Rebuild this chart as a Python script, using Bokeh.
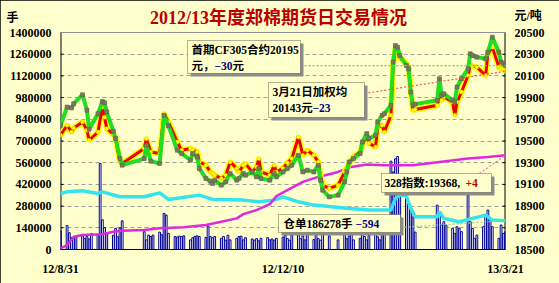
import pandas as pd
from bokeh.plotting import figure
from bokeh.models import (Range1d, LinearAxis, FixedTicker, Label, BoxAnnotation, Span,
                          CustomJSTickFormatter)
from bokeh.embed import file_html
from bokeh.resources import INLINE

# ---------------- data ----------------
title_text = "2012/13年度郑棉期货日交易情况"
left_unit = "手"
right_unit = "元/吨"
tick_dates = ["2012-08-31", "2012-12-10", "2013-03-21"]
tick_labels = ["12/8/31", "12/12/10", "13/3/21"]
vol_ticks = [0, 140000, 280000, 420000, 560000, 700000, 840000, 980000, 1120000, 1260000, 1400000]
price_ticks = [18500, 18700, 18900, 19100, 19300, 19500, 19700, 19900, 20100, 20300, 20500]

holidays = ["2012-10-01", "2012-10-02", "2012-10-03", "2012-10-04", "2012-10-05",
            "2013-01-01", "2013-01-02", "2013-01-03",
            "2013-02-11", "2013-02-12", "2013-02-13", "2013-02-14", "2013-02-15"]

# daily volume (lots), one value per trading day
volume = [
    120000,
    155000, 108000, 78000, 70000, 85000,
    88000, 72000, 84000, 68000, 102000,
    96000, 555000, 192000, 142000, 100000,
    92000, 136000, 82000, 140000, 185000,
    115000, 62000, 93000, 84000, 93000,
    112000, 95000, 233000, 222000, 104000,
    84000, 80000, 86000, 84000, 88000,
    62000, 76000, 84000,
    88000, 84000,
    78000, 151000, 84000, 76000, 84000,
    72000, 84000, 60000, 92000, 62000,
    72000, 84000, 86000, 62000, 76000,
    68000, 60000, 70000, 56000, 72000,
    76000, 62000, 68000, 60000, 72000,
    80000, 92000, 70000, 60000, 90000,
    95000, 70000, 88000, 62000, 100000,
    64000, 96000, 70000, 60000, 102000,
    88000,
    62000,
    100000, 70000, 88000, 104000, 62000,
    72000, 98000, 84000, 62000, 90000,
    100000, 82000, 62000, 110000, 130000,
    570000, 500000, 585000, 600000, 430000,
    330000, 305000, 255000, 210000, 112000,
    286000, 243000, 158000, 179000, 158000,
    136000, 104000, 147000, 136000,
    115000,
    351000, 179000, 136000, 72000, 93000,
    147000, 222000, 254000, 200000, 147000,
    72000, 158000, 104000, 115000,
]

price_dates = [
    "2012-08-31", "2012-09-03", "2012-09-05", "2012-09-06", "2012-09-10", "2012-09-12",
    "2012-09-13", "2012-09-17", "2012-09-19", "2012-09-20", "2012-09-21", "2012-09-24",
    "2012-09-25", "2012-09-27", "2012-09-28",
    "2012-10-08", "2012-10-09", "2012-10-11", "2012-10-15", "2012-10-17", "2012-10-19",
    "2012-10-23", "2012-10-25", "2012-10-29", "2012-10-30",
    "2012-11-01", "2012-11-02", "2012-11-05", "2012-11-07", "2012-11-08", "2012-11-09",
    "2012-11-12", "2012-11-14", "2012-11-16", "2012-11-19", "2012-11-20", "2012-11-22",
    "2012-11-23", "2012-11-26", "2012-11-28", "2012-11-29", "2012-11-30",
    "2012-12-04", "2012-12-06", "2012-12-07", "2012-12-10", "2012-12-12", "2012-12-14",
    "2012-12-17", "2012-12-19", "2012-12-21", "2012-12-24", "2012-12-26", "2012-12-27",
    "2012-12-28", "2012-12-31",
    "2013-01-04", "2013-01-07", "2013-01-08", "2013-01-09", "2013-01-11", "2013-01-14",
    "2013-01-15", "2013-01-17", "2013-01-18", "2013-01-21", "2013-01-22", "2013-01-24",
    "2013-01-25", "2013-01-28", "2013-01-29", "2013-01-30", "2013-01-31", "2013-02-01",
    "2013-02-04", "2013-02-05", "2013-02-06", "2013-02-07", "2013-02-08",
    "2013-02-18", "2013-02-19", "2013-02-20", "2013-02-21", "2013-02-25", "2013-02-26",
    "2013-02-27",
    "2013-03-01", "2013-03-04", "2013-03-05", "2013-03-06", "2013-03-08", "2013-03-12",
    "2013-03-13", "2013-03-15", "2013-03-18", "2013-03-19", "2013-03-20", "2013-03-21",
]
cf305_close = [
    19645, 19813, 19804, 19844, 19927, 19783, 19608, 19752, 19865, 19853, 19767, 19590, 19522, 19338, 19277,
    19338, 19461, 19314, 19293, 19737, 19640, 19415, 19385, 19323, 19385,
    19353, 19247, 19155, 19130, 19109, 19139, 19093, 19123, 19201, 19139, 19155, 19201, 19185, 19215, 19169, 19247, 19155,
    19139, 19201, 19169, 19215, 19247, 19277, 19369, 19215, 19231, 19215, 19277, 19139, 19047, 18985,
    19001, 19123, 19215, 19307, 19338, 19385, 19491, 19568, 19522, 19553, 19675, 19737, 19752, 19829, 20227, 20380, 20365, 20288,
    20196, 20166, 19951, 19829, 19840,
    19875, 20074, 19921, 19936, 19875, 19859, 19997,
    20074, 20166, 20304, 20288, 20273, 20258, 20319, 20457, 20319, 20227, 20212, 20195,
]
weighted_avg = [
    19553, 19645, 19583, 19620, 19675, 19600, 19507, 19583, 19813, 19720, 19614, 19560, 19522, 19307, 19292,
    19430, 19522, 19399, 19385, 19752, 19675, 19491, 19415, 19430, 19420,
    19399, 19307, 19277, 19215, 19200, 19185, 19155, 19185, 19307, 19247, 19215, 19277, 19292, 19215, 19260, 19338, 19215,
    19185, 19277, 19215, 19247, 19300, 19338, 19537, 19369, 19415, 19369, 19307, 19185, 19093, 19063,
    19093, 19215, 19250, 19292, 19353, 19400, 19461, 19553, 19480, 19445, 19629, 19645, 19583, 19737, 20196, 20350, 20319, 20270,
    20212, 20181, 19951, 19783, 19790,
    19829, 19921, 19875, 19905, 19859, 19737, 19859,
    19951, 20104, 20196, 20190, 20181, 20104, 20304, 20365, 20181, 20170, 20166, 20143,
]

receipt_dates = [
    "2012-08-31", "2012-09-03", "2012-09-10", "2012-09-17", "2012-09-19", "2012-09-27",
    "2012-10-08", "2012-10-15", "2012-10-19", "2012-11-02", "2012-11-08", "2012-11-22",
    "2012-11-29", "2012-12-06", "2012-12-10", "2012-12-17", "2012-12-24", "2013-01-09",
    "2013-01-18", "2013-01-28", "2013-01-30", "2013-02-01", "2013-02-04", "2013-02-06",
    "2013-02-08", "2013-02-18", "2013-02-19", "2013-02-21", "2013-02-28", "2013-03-06",
    "2013-03-12", "2013-03-15", "2013-03-21",
]
receipts = [
    361700, 372000, 378500, 361700, 372000, 340000,
    340000, 365600, 323000, 350800, 323000, 318600,
    307700, 318600, 340000, 307700, 286500, 265200,
    254300, 254300, 329600, 350800, 344400, 265200,
    211100, 211100, 243300, 200800, 179000, 200800,
    222100, 189900, 186278,
]

index_dates = [
    "2012-08-31", "2012-09-03", "2012-09-06", "2012-09-10", "2012-09-19", "2012-09-24",
    "2012-09-28", "2012-10-08", "2012-10-15", "2012-10-26", "2012-11-05", "2012-11-12",
    "2012-11-19", "2012-11-22", "2012-11-28", "2012-12-04", "2012-12-07", "2012-12-12",
    "2012-12-19", "2012-12-26", "2013-01-04", "2013-01-10", "2013-01-17", "2013-01-25",
    "2013-02-07", "2013-02-19", "2013-03-04", "2013-03-13", "2013-03-21",
]
index_328 = [
    18511, 18541, 18618, 18633, 18640, 18664,
    18673, 18679, 18695, 18704, 18725, 18756,
    18787, 18826, 18863, 18918, 18992, 19047,
    19123, 19169, 19215, 19261, 19283, 19277,
    19277, 19307, 19339, 19353, 19368,
]

note_cf305 = ["首期CF305合约20195", "元，", "−30", "元"]
note_wavg = ["3月21日加权均", "20143元", "−23"]
note_index = ["328指数:19368, ", "+4"]
note_receipt = ["仓单186278手", "−594"]

# ---------------- helpers ----------------
START = pd.Timestamp(tick_dates[0])
END = pd.Timestamp(tick_dates[-1])


def day(d):
    return float((pd.Timestamp(d) - START).days)


trade_days = [d for d in pd.bdate_range(START, END) if d.strftime("%Y-%m-%d") not in holidays]
trade_x = [day(d) for d in trade_days]
n = min(len(trade_x), len(volume))
trade_x, vol_vals = trade_x[:n], volume[:n]

price_x = [day(d) for d in price_dates]
receipt_x = [day(d) for d in receipt_dates]
index_x = [day(d) for d in index_dates]
tick_x = [day(d) for d in tick_dates]
X_MAX = day(END)

W, H = 559, 283
FL, FR, FB = 60, 505, 249      # frame left / right / bottom (px)
DATA_T = 32                    # top of the value area (px)
FRAME_T = 4                    # frame extends up to here so the heading texts are inside it
V_MAX = vol_ticks[-1]
P_MIN, P_MAX = price_ticks[0], price_ticks[-1]


def vx(px):
    return (px - FL) / (FR - FL) * X_MAX


def vy(py):
    return (FB - py) / (FB - DATA_T) * V_MAX


def vp(py):
    return P_MIN + (FB - py) / (FB - DATA_T) * (P_MAX - P_MIN)


BG = "#FFFFCC"
MIXED = "'Liberation Serif', 'Noto Sans CJK SC'"

p = figure(width=W, height=H, output_backend="svg", toolbar_location=None,
           x_range=Range1d(0, X_MAX), y_range=Range1d(0, vy(FRAME_T)),
           min_border_left=FL, min_border_right=W - FR, min_border_top=FRAME_T,
           min_border_bottom=H - FB,
           background_fill_color=BG, border_fill_color=BG, outline_line_color=None)
p.extra_y_ranges = {"price": Range1d(P_MIN, vp(FRAME_T))}
p.styles = {"outline": "1px solid black", "outline-offset": "-1px"}

left_axis = p.left[0]
bottom_axis = p.below[0]
right_axis = LinearAxis(y_range_name="price")
p.add_layout(right_axis, "right")

# unit captions are drawn as extra tick labels at the height of the heading
left_unit_tick = vy(17)
right_unit_tick = vp(15)
left_axis.ticker = FixedTicker(ticks=vol_ticks + [left_unit_tick])
left_axis.formatter = CustomJSTickFormatter(
    args=dict(limit=V_MAX, unit=left_unit + "\u00a0" * 11),
    code="return tick > limit ? unit : tick.toFixed(0);")
right_axis.ticker = FixedTicker(ticks=price_ticks + [right_unit_tick])
right_axis.formatter = CustomJSTickFormatter(
    args=dict(limit=P_MAX, unit=right_unit),
    code="return tick > limit ? unit : tick.toFixed(0);")

bottom_axis.ticker = FixedTicker(ticks=tick_x)
bottom_axis.formatter = CustomJSTickFormatter(
    args=dict(tick_pos=tick_x, tick_text=tick_labels),
    code="const i = tick_pos.indexOf(tick); return i >= 0 ? tick_text[i] : '';")

for ax in [bottom_axis, left_axis, right_axis]:
    ax.major_label_text_font = MIXED
    ax.major_label_text_font_style = "bold"
    ax.major_label_text_font_size = "12px"
    ax.major_label_text_color = "black"
    ax.minor_tick_line_color = None
    ax.major_tick_in = 0
    ax.major_tick_out = 0
    ax.major_label_standoff = 9
for ax in [left_axis, right_axis]:
    ax.axis_line_color = None
    ax.major_tick_line_color = None
bottom_axis.axis_line_color = "black"
bottom_axis.major_tick_line_color = None
bottom_axis.major_label_standoff = 12

p.xgrid.visible = False
p.ygrid.ticker = FixedTicker(ticks=vol_ticks[1:-1])
p.ygrid.grid_line_color = "#A0A0A0"
p.ygrid.grid_line_dash = "4 3"
p.add_layout(Span(location=V_MAX, dimension="width", line_color="#909090", line_width=1))

# axis lines and small inward ticks (only over the value area)
p.segment(x0=[0], y0=[0], x1=[0], y1=[V_MAX], line_color="black", line_width=2)
p.segment(x0=[X_MAX], y0=[P_MIN], x1=[X_MAX], y1=[P_MAX], y_range_name="price",
          line_color="black", line_width=2)
p.segment(x0=[0] * len(vol_ticks), y0=vol_ticks, x1=[vx(FL + 3)] * len(vol_ticks), y1=vol_ticks,
          line_color="black", line_width=1)
p.segment(x0=[vx(FR - 3)] * len(price_ticks), y0=price_ticks, x1=[X_MAX] * len(price_ticks),
          y1=price_ticks, y_range_name="price", line_color="black", line_width=1)

# ---------------- glyphs ----------------
p.vbar(x=trade_x, top=vol_vals, bottom=0, width=0.8, fill_color="#FFFFFF",
       line_color="#000099", line_width=1)
p.line(receipt_x, receipts, line_color="#33E3EE", line_width=3.5)
p.line(index_x, index_328, y_range_name="price", line_color="#E028E0", line_width=2.5)

p.line(price_x, weighted_avg, y_range_name="price", line_color="#FFFF00", line_width=6)
p.line(price_x, weighted_avg, y_range_name="price", line_color="#EE0000", line_width=3)
p.scatter(price_x, weighted_avg, y_range_name="price", marker="circle", size=4,
          fill_color="#FFFF00", line_color="#D8C000", line_width=0.5)

p.line(price_x, cf305_close, y_range_name="price", line_color="#22DD22", line_width=4)
p.scatter(price_x, cf305_close, y_range_name="price", marker="square", size=4,
          fill_color="#7A7A5A", line_color="#5A5A40", line_width=0.5)

# pointer lines from the notes to the last values
p.segment(x0=[vx(300)], y0=[cf305_close[-1]], x1=[price_x[-1]], y1=[cf305_close[-1]],
          y_range_name="price", line_color="#55DD55", line_width=1.2, line_dash="2 2")
p.segment(x0=[vx(364)], y0=[vp(93)], x1=[price_x[-1]], y1=[weighted_avg[-1]],
          y_range_name="price", line_color="#FF5050", line_width=1.2, line_dash="2 2")
p.segment(x0=[vx(479)], y0=[vp(173)], x1=[index_x[-1]], y1=[index_328[-1]],
          y_range_name="price", line_color="#F070C8", line_width=1.2, line_dash="2 2")
p.segment(x0=[vx(400)], y0=[vy(227)], x1=[receipt_x[-1]], y1=[receipts[-1]],
          line_color="#80D8A0", line_width=1.2, line_dash="2 2")


# ---------------- annotations ----------------
def box(l, t, r, b):
    p.add_layout(BoxAnnotation(left=vx(l + 3), right=vx(r + 3), top=vy(t + 3), bottom=vy(b + 3),
                               fill_color="#8C8C8C", fill_alpha=1, line_color=None))
    p.add_layout(BoxAnnotation(left=vx(l), right=vx(r), top=vy(t), bottom=vy(b),
                               fill_color=BG, fill_alpha=1, line_color="black", line_width=1))


def put(px, py, s, color="black", size="11.5px", font=MIXED, align="left", style="bold"):
    p.add_layout(Label(x=vx(px), y=vy(py), text=s, text_color=color, text_font=font,
                       text_font_size=size, text_font_style=style, text_align=align,
                       text_baseline="middle"))


NAVY = "#000080"
DARKRED = "#C00000"

box(187, 40, 300, 73)
put(191, 49, note_cf305[0])
put(191, 65, note_cf305[1])
put(214, 65, note_cf305[2], color=NAVY)
put(232, 65, note_cf305[3])

box(268, 82, 364, 117)
put(272, 91, note_wavg[0])
put(272, 107, note_wavg[1])
put(312, 107, note_wavg[2], color=NAVY)

box(381, 173, 491, 192)
put(384, 182.5, note_index[0])
put(465, 182.5, note_index[1], color=DARKRED)

box(278, 214, 400, 232)
put(283, 223, note_receipt[0])
put(355, 223, note_receipt[1], color=NAVY)

put(278, 17, title_text, color="#B80000", size="18px", align="center")

open("out.html", "w").write(file_html(p, INLINE))
